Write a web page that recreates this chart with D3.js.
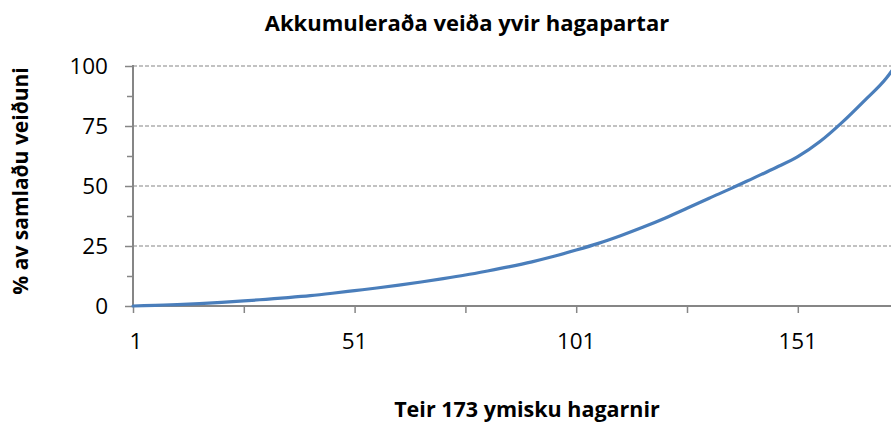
<!DOCTYPE html>
<html>
<head>
<meta charset="utf-8">
<script src="https://cdn.jsdelivr.net/npm/d3@7"></script>
<style>
  html, body { margin: 0; padding: 0; background: #fff; }
  svg { display: block; }
  text { font-family: "Open Sans", "Noto Sans", sans-serif; fill: #000; }
</style>
</head>
<body>
<svg id="chart" width="891" height="423"></svg>
<script>
// Data (rank of area, cumulative % of catch)
const ranks  = [1, 6, 11, 16, 21, 26, 31, 36, 41, 46, 51, 56, 61, 66, 71, 76, 81, 86, 91, 96,
                101, 106, 111, 116, 121, 126, 131, 136, 141, 146, 151, 156, 161, 166, 171, 173];
const values = [0.0, 0.3, 0.6, 1.0, 1.5, 2.1, 2.8, 3.5, 4.3, 5.3, 6.4, 7.5, 8.7, 10.0, 11.4, 12.9,
                14.6, 16.4, 18.4, 20.7, 23.3, 26.1, 29.3, 32.8, 36.6, 40.7, 44.9, 49.0, 53.3, 57.6,
                62.2, 68.5, 76.5, 85.5, 95.0, 100.0];
const yTicks = [0, 25, 50, 75, 100];
const yMinor = [12.5, 37.5, 62.5, 87.5];
const xTicks = [1, 26, 51, 76, 101, 126, 151];
const xLabels = [1, 51, 101, 151];
const title = "Akkumuleraða veiða yvir hagapartar";
const xTitle = "Teir 173 ymisku hagarnir";
const yTitle = "% av samlaðu veiðuni";

(function () {
const data = ranks.map((r, i) => ({ r, v: values[i] }));

const svg = d3.select("#chart");
const mLeft = 133, mTop = 66, mBottom = 306;
const x = d3.scaleLinear().domain([1, 173]).range([mLeft, mLeft + 172 * 4.432]);
const y = d3.scaleLinear().domain([0, 100]).range([mBottom, mTop]);
const axisColor = "#868686";

// gridlines
svg.append("g").selectAll("line").data(yTicks.filter(d => d > 0)).join("line")
  .attr("x1", mLeft).attr("x2", 900)
  .attr("y1", d => y(d)).attr("y2", d => y(d))
  .attr("stroke", axisColor).attr("stroke-width", 1.2).attr("stroke-dasharray", "4,2");

// y axis
const yAxis = d3.axisLeft(y).tickValues(yTicks).tickSize(8).tickFormat("");
const gy = svg.append("g").attr("transform", `translate(${mLeft},0)`).call(yAxis);
gy.select(".domain").remove();
gy.selectAll(".tick line").attr("stroke", axisColor).attr("stroke-width", 1.5);
const yAxisMinor = d3.axisLeft(y).tickValues(yMinor).tickSize(6).tickFormat("");
const gym = svg.append("g").attr("transform", `translate(${mLeft},0)`).call(yAxisMinor);
gym.select(".domain").remove();
gym.selectAll(".tick line").attr("stroke", axisColor).attr("stroke-width", 1.5);
svg.append("line").attr("x1", mLeft).attr("x2", mLeft).attr("y1", mTop - 1).attr("y2", mBottom + 1)
  .attr("stroke", axisColor).attr("stroke-width", 2);

svg.append("g").selectAll("text").data(yTicks).join("text")
  .attr("x", 108).attr("y", d => y(d)).attr("dy", "0.36em")
  .attr("text-anchor", "end").attr("font-size", 22.5).text(d => d);

// x axis
const xAxis = d3.axisBottom(x).tickValues(xTicks).tickSize(7).tickFormat("");
const gx = svg.append("g").attr("transform", `translate(0,${mBottom})`).call(xAxis);
gx.select(".domain").remove();
gx.selectAll(".tick line").attr("stroke", axisColor).attr("stroke-width", 1.5);
svg.append("line").attr("x1", mLeft - 1).attr("x2", 900).attr("y1", mBottom).attr("y2", mBottom)
  .attr("stroke", axisColor).attr("stroke-width", 2);

svg.append("g").selectAll("text").data(xLabels).join("text")
  .attr("x", d => x(d) + (d === 1 ? 3 : 0)).attr("y", 349)
  .attr("text-anchor", "middle").attr("font-size", 22.5).text(d => d);

// line
const line = d3.line().x(d => x(d.r)).y(d => y(d.v)).curve(d3.curveMonotoneX);
svg.append("path").datum(data).attr("d", line)
  .attr("fill", "none").attr("stroke", "#4a7ebb").attr("stroke-width", 3.2)
  .attr("stroke-linecap", "round");

// titles
svg.append("text").attr("x", 467).attr("y", 31).attr("text-anchor", "middle")
  .attr("font-size", 22).attr("font-weight", "bold").text(title);
svg.append("text").attr("x", 527).attr("y", 417).attr("text-anchor", "middle")
  .attr("font-size", 21.5).attr("font-weight", "bold").text(xTitle);
svg.append("text").attr("transform", "translate(28,181) rotate(-90)").attr("text-anchor", "middle")
  .attr("font-size", 21).attr("font-weight", "bold").text(yTitle);
})();
</script>
</body>
</html>
